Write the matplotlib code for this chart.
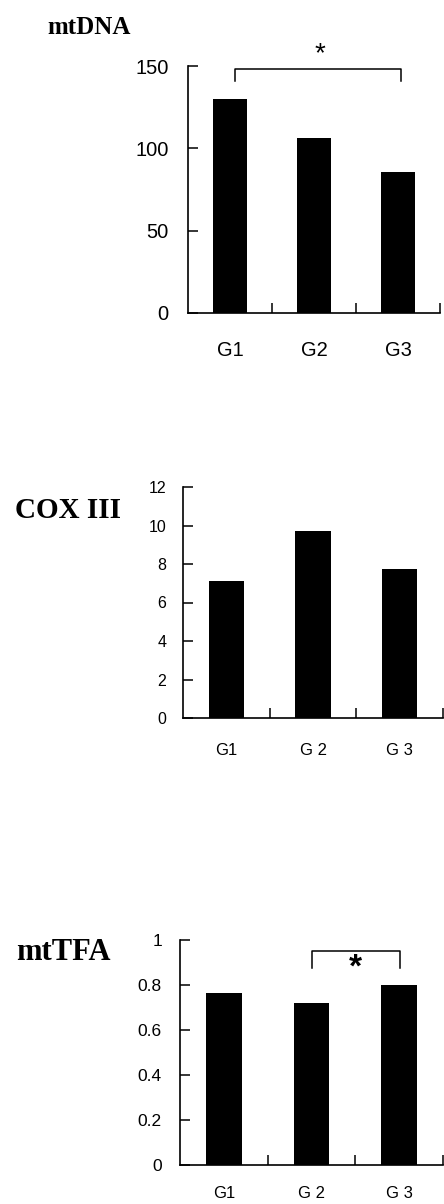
import matplotlib
matplotlib.use("Agg")
import matplotlib.pyplot as plt

groups_a = ["G1", "G2", "G3"]
groups_b = ["G1", "G 2", "G 3"]
mtdna = [130, 106, 85.5]
cox3 = [7.12, 9.7, 7.72]
mttfa = [0.763, 0.722, 0.802]

W, H = 444, 1204
fig = plt.figure(figsize=(W / 100, H / 100), dpi=100)

def box(l, r, t, b):
    return [l / W, 1 - b / H, (r - l) / W, (b - t) / H]

sans = "Liberation Sans"
serif = "Liberation Serif"

def style(ax, ymax, yticks, ylabels, xlabels, ysize, xsize, ypad, xpad):
    x = [1, 2, 3]
    ax.set_xlim(0.5, 3.5)
    ax.set_ylim(0, ymax)
    for s in ["top", "right"]:
        ax.spines[s].set_visible(False)
    for s in ["left", "bottom"]:
        ax.spines[s].set_linewidth(1.2)
    ax.set_yticks(yticks)
    ax.set_yticklabels(ylabels, fontsize=ysize, family=sans)
    ax.set_xticks(x)
    ax.set_xticklabels(xlabels, fontsize=xsize, family=sans)
    ax.set_xticks([1.5, 2.5, 3.5], minor=True)
    ax.tick_params(axis="y", direction="in", length=7, width=1.1, pad=ypad)
    ax.tick_params(axis="x", which="major", length=0, pad=xpad)
    ax.tick_params(axis="x", which="minor", direction="in", length=7, width=1.1)

# Panel 1: mtDNA
ax1 = fig.add_axes(box(188, 440, 66, 313))
ax1.bar([1, 2, 3], mtdna, width=0.41, color="black")
style(ax1, 150, [0, 50, 100, 150], ["0", "50", "100", "150"], groups_a, 14.5, 14.5, 14, 20)
ax1.plot([1.06, 1.06, 3.04, 3.04], [141, 148, 148, 141], color="black", lw=1.1, clip_on=False)
ax1.text(2.07, 157, "*", ha="center", va="center", fontsize=20, family=sans, clip_on=False)
fig.text(47 / W, 1 - 27 / H, "mtDNA", family=serif, weight="bold", fontsize=18, ha="left", va="center")

# Panel 2: COX III
ax2 = fig.add_axes(box(183, 443, 487, 718))
ax2.bar([1, 2, 3], cox3, width=0.41, color="black")
style(ax2, 12, list(range(0, 13, 2)), [str(v) for v in range(0, 13, 2)], groups_b, 11.5, 12, 12, 18)
fig.text(15 / W, 1 - 511 / H, "COX III", family=serif, weight="bold", fontsize=21, ha="left", va="center")

# Panel 3: mtTFA
ax3 = fig.add_axes(box(180, 443, 940, 1165))
ax3.bar([1, 2, 3], mttfa, width=0.41, color="black")
style(ax3, 1, [0, 0.2, 0.4, 0.6, 0.8, 1.0], ["0", "0.2", "0.4", "0.6", "0.8", "1"], groups_b, 12.5, 12, 13, 15)
ax3.plot([2.0, 2.0, 3.01, 3.01], [0.877, 0.951, 0.951, 0.877], color="black", lw=1.1, clip_on=False)
ax3.text(2.5, 0.875, "*", ha="center", va="center", fontsize=24, family=sans, weight="bold", clip_on=False)
fig.text(16 / W, 1 - 953 / H, "mtTFA", family=serif, weight="bold", fontsize=22, ha="left", va="center")

fig.savefig("out.png", dpi=100)
